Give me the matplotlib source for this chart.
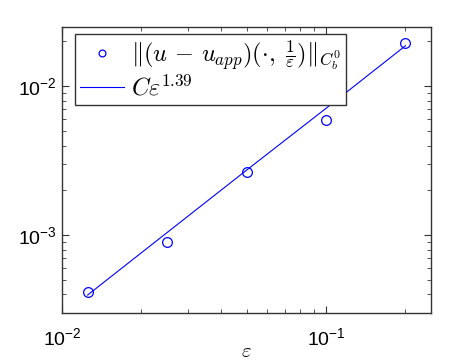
import matplotlib.pyplot as plt

# data
eps = [0.0125, 0.025, 0.05, 0.1, 0.2]
err = [4.18e-4, 9.0e-4, 2.67e-3, 5.9e-3, 1.96e-2]
# fitted line C*eps^1.39 at the same eps values
fit = [3.96e-4, 1.04e-3, 2.73e-3, 7.1e-3, 1.87e-2]

plt.rcParams['font.family'] = ['Liberation Sans', 'DejaVu Sans']
plt.rcParams['mathtext.fontset'] = 'cm'

fig = plt.figure(figsize=(4.77, 3.64), dpi=100)
ax = fig.add_axes([62 / 477, 1 - 313 / 364, (431 - 62) / 477, (313 - 27) / 364])

ax.loglog(eps, err, 'o', mfc='none', mec='blue', ms=7, mew=0.9,
          label=r'$\|(u\,-\,u_{app})(\cdot,\;\frac{1}{\varepsilon})\|_{C_b^0}$')
ax.loglog(eps, fit, '-', color='blue', lw=0.8, label=r'$C\varepsilon^{1.39}$')

ax.set_xlim(0.01, 0.25)
ax.set_ylim(3e-4, 2.5e-2)

for s in ax.spines.values():
    s.set_color('#333333')
    s.set_linewidth(1.0)
ax.tick_params(which='both', direction='in', top=True, right=True, colors='#333333',
               labelcolor='black', labelsize=14)
ax.tick_params(which='major', length=5)
ax.tick_params(which='minor', length=3)
ax.tick_params(axis='x', pad=10)

ax.set_xlabel(r'$\varepsilon$', fontsize=15, labelpad=-5)

leg = ax.legend(loc='upper left', bbox_to_anchor=(0.035, 0.976), fontsize=17.5,
                fancybox=False, framealpha=1, edgecolor='#333333',
                borderpad=0.2, labelspacing=0.1, handlelength=1.8,
                handletextpad=0.3, borderaxespad=0, markerscale=0.7)
leg.get_frame().set_linewidth(1.0)

fig.savefig('out.png', dpi=100)
